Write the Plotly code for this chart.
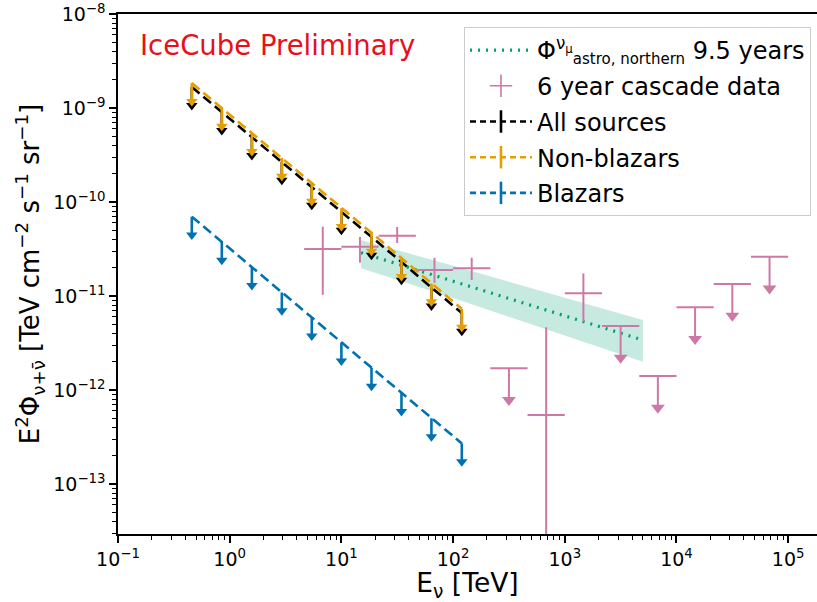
import plotly.graph_objects as go
import math

# ---------------- data ----------------
# source-population upper limits (TeV, TeV cm^-2 s^-1 sr^-1)
src_energy = [0.458, 0.85, 1.58, 2.93, 5.43, 10.0, 18.6, 34.5, 64.0, 119.7]
all_sources = [1.67e-9, 9.06e-10, 4.91e-10, 2.67e-10, 1.45e-10, 7.83e-11, 4.25e-11, 2.30e-11, 1.23e-11, 6.59e-12]
non_blazars = [1.84e-9, 1.00e-9, 5.40e-10, 2.94e-10, 1.60e-10, 8.60e-11, 4.70e-11, 2.53e-11, 1.36e-11, 7.30e-12]
blazars = [6.98e-11, 3.77e-11, 2.03e-11, 1.09e-11, 5.90e-12, 3.18e-12, 1.72e-12, 9.27e-13, 5.00e-13, 2.70e-13]

# 6-year cascade data: bin edges (TeV)
casc_edges = [4.64, 10.0, 21.5, 46.4, 100.0, 215.4, 464.2, 1000.0, 2154.0, 4642.0, 10000.0, 21544.0, 46416.0, 100000.0]
# measured bins (index into bins), value, lower, upper
casc_meas_bin = [0, 1, 2, 3, 4, 6, 7]
casc_meas_val = [3.16e-11, 3.35e-11, 4.38e-11, 1.89e-11, 1.97e-11, 5.42e-13, 1.07e-11]
casc_meas_lo = [1.03e-11, 2.26e-11, 3.66e-11, 1.38e-11, 1.48e-11, 1.0e-15, 5.33e-12]
casc_meas_hi = [5.46e-11, 4.25e-11, 5.42e-11, 2.55e-11, 2.55e-11, 4.65e-12, 1.74e-11]
# upper-limit bins
casc_ul_bin = [5, 8, 9, 10, 11, 12]
casc_ul_val = [1.70e-12, 4.80e-12, 1.41e-12, 7.59e-12, 1.34e-11, 2.62e-11]

# astrophysical numu flux (9.5 years) with uncertainty band
astro_energy = [15.0, 100.0, 5000.0]
astro_flux = [2.89e-11, 1.44e-11, 3.40e-12]
astro_band_lo = [1.97e-11, 9.5e-12, 2.00e-12]
astro_band_hi = [3.94e-11, 2.10e-11, 5.56e-12]

x_tick_exps = [-1, 0, 1, 2, 3, 4, 5]
y_tick_exps = [-13, -12, -11, -10, -9, -8]

# ---------------- styles ----------------
C_BLACK = "#000000"
C_ORANGE = "#E69F00"
C_BLUE = "#0072B2"
C_GREEN = "#009E73"
C_PINK = "#CC79A7"
FONT = "DejaVu Sans"
SRC_HEAD = 0.638   # arrow-head centre relative to limit (log-scale)
CASC_HEAD = 0.46

fig = go.Figure()

# astro band
fig.add_trace(go.Scatter(
    x=astro_energy + astro_energy[::-1],
    y=astro_band_hi + astro_band_lo[::-1],
    fill="toself", fillcolor="rgba(0,158,115,0.22)",
    line=dict(width=0), mode="lines", hoverinfo="skip", showlegend=False))
# astro line
fig.add_trace(go.Scatter(
    x=astro_energy, y=astro_flux, mode="lines",
    line=dict(color=C_GREEN, width=3.2, dash="2px,6px"),
    name="Φ<sup>ν<sub>μ</sub></sup><sub><span style=\"font-size:15px\">astro, northern</span></sub> 9.5 years",
    legendrank=1, legendgroup="g1"))

# cascade measured points
centers = [math.sqrt(casc_edges[i] * casc_edges[i + 1]) for i in range(len(casc_edges) - 1)]
mx = [centers[b] for b in casc_meas_bin]
fig.add_trace(go.Scatter(
    x=mx, y=casc_meas_val, mode="markers",
    marker=dict(size=1, color="rgba(0,0,0,0)"),
    error_x=dict(type="data", symmetric=False,
                 array=[casc_edges[b + 1] - centers[b] for b in casc_meas_bin],
                 arrayminus=[centers[b] - casc_edges[b] for b in casc_meas_bin],
                 color=C_PINK, thickness=2, width=0),
    error_y=dict(type="data", symmetric=False,
                 array=[h - v for h, v in zip(casc_meas_hi, casc_meas_val)],
                 arrayminus=[v - l for v, l in zip(casc_meas_val, casc_meas_lo)],
                 color=C_PINK, thickness=2, width=0),
    showlegend=False, hoverinfo="skip"))
# cascade upper limits: cap + stem
ux = [centers[b] for b in casc_ul_bin]
fig.add_trace(go.Scatter(
    x=ux, y=casc_ul_val, mode="markers",
    marker=dict(size=1, color="rgba(0,0,0,0)"),
    error_x=dict(type="data", symmetric=False,
                 array=[casc_edges[b + 1] - centers[b] for b in casc_ul_bin],
                 arrayminus=[centers[b] - casc_edges[b] for b in casc_ul_bin],
                 color=C_PINK, thickness=2, width=0),
    error_y=dict(type="data", symmetric=False,
                 array=[0] * len(casc_ul_val),
                 arrayminus=[v * (1 - CASC_HEAD) for v in casc_ul_val],
                 color=C_PINK, thickness=2, width=0),
    showlegend=False, hoverinfo="skip"))
fig.add_trace(go.Scatter(
    x=ux, y=[v * CASC_HEAD for v in casc_ul_val], mode="markers",
    marker=dict(symbol="triangle-down", size=12, color=C_PINK, line=dict(width=0)),
    showlegend=False, hoverinfo="skip"))
# legend entry for cascades
fig.add_trace(go.Scatter(
    x=[None], y=[None], mode="markers", name="6 year cascade data",
    marker=dict(symbol="cross-thin-open", size=24, color=C_PINK, line=dict(width=1.6, color=C_PINK)),
    legendrank=2, legendgroup="g2"))


def add_limits(vals, color, name, rank):
    fig.add_trace(go.Scatter(
        x=src_energy, y=vals, mode="lines",
        line=dict(color=color, width=2.6, dash="10px,5px"),
        showlegend=False, hoverinfo="skip"))
    fig.add_trace(go.Scatter(
        x=src_energy, y=[v * SRC_HEAD for v in vals], mode="markers",
        marker=dict(symbol="triangle-down", size=10, color=color, line=dict(width=0)),
        error_y=dict(type="data", symmetric=False,
                     array=[v * (1 - SRC_HEAD) for v in vals],
                     arrayminus=[0] * len(vals),
                     color=color, thickness=2.6, width=0),
        showlegend=False, hoverinfo="skip"))
    fig.add_trace(go.Scatter(
        x=[None], y=[None], mode="lines+markers", name=name,
        line=dict(color=color, width=2.6, dash="6px,4px"),
        marker=dict(symbol="line-ns-open", size=16, color=color, line=dict(width=2.6, color=color)),
        legendrank=rank, legendgroup="g%d" % rank))


add_limits(blazars, C_BLUE, "Blazars", 5)
add_limits(all_sources, C_BLACK, "All sources", 3)
add_limits(non_blazars, C_ORANGE, "Non-blazars", 4)

fig.add_annotation(
    x=0.029, y=0.940, xref="paper", yref="paper", xanchor="left", yanchor="middle",
    text="IceCube Preliminary", showarrow=False,
    font=dict(family=FONT, size=27.5, color="#E8101A"))

axis_common = dict(
    type="log", showline=True, linecolor="black", linewidth=1.5, mirror=True,
    ticks="outside", ticklen=7, tickwidth=1.5, tickcolor="black",
    showgrid=False, zeroline=False, automargin=False, ticklabeloverflow="allow",
    tickfont=dict(family=FONT, size=19, color="black"),
    minor=dict(ticks="outside", ticklen=4, tickwidth=1, tickcolor="black",
               dtick="D1", showgrid=False),
)

fig.update_layout(
    width=817, height=602,
    margin=dict(l=118, r=0, t=14, b=68),
    plot_bgcolor="white", paper_bgcolor="white",
    font=dict(family=FONT, color="black"),
    xaxis=dict(axis_common, range=[-1.0, 5.258],
               tickmode="array",
               tickvals=[10.0 ** e for e in x_tick_exps],
               ticktext=["10<sup>" + str(e).replace("-", "−") + "</sup>" for e in x_tick_exps],
               title=dict(text="E<sub>ν</sub> [TeV]", font=dict(family=FONT, size=26.5), standoff=0)),
    yaxis=dict(axis_common, range=[-13.532, -8.0],
               tickmode="array",
               tickvals=[10.0 ** e for e in y_tick_exps],
               ticktext=["10<sup>" + str(e).replace("-", "−") + "</sup>" for e in y_tick_exps],
               title=dict(text="E<sup>2</sup>Φ<sub>ν+ν̄</sub> [TeV cm<sup>−2</sup> s<sup>−1</sup> sr<sup>−1</sup>]",
                          font=dict(family=FONT, size=26), standoff=6)),
    legend=dict(x=0.9914, y=0.975, xanchor="right", yanchor="top",
                bgcolor="white", bordercolor="#cccccc", borderwidth=1,
                font=dict(family=FONT, size=24, color="black"),
                itemwidth=62, traceorder="grouped", tracegroupgap=1.5),
    showlegend=True,
)

fig.write_html("out.html", config={"displayModeBar": False},
               post_script="document.body.style.margin='0px';")
